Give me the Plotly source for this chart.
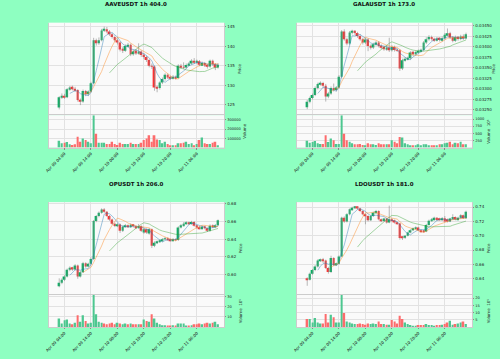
import plotly.graph_objects as go
import pandas as pd

# ---------------- data ----------------
TIME_TICKS = [2, 12, 22, 32, 42, 52]
TIME_LABELS = ["Apr 09 04:00", "Apr 09 14:00", "Apr 10 00:00",
               "Apr 10 10:00", "Apr 10 20:00", "Apr 11 06:00"]

AAVE_OPEN = [124.3,126.9,127.3,126.9,129.0,129.4,129.0,128.8,126.2,125.8,128.5,127.7,128.4,130.5,141.6,140.8,141.6,144.1,144.4,143.8,
             143.1,142.4,141.6,141.0,139.2,138.9,140.1,140.4,138.0,138.7,138.2,138.7,137.8,137.3,136.5,135.0,134.8,129.4,129.3,130.7,
             131.6,132.7,132.0,131.8,132.2,131.9,135.0,134.7,134.6,135.2,135.6,136.3,135.9,136.2,135.3,135.7,135.1,134.8,136.3,135.4,134.6]
AAVE_CLOSE = [126.9,127.3,126.9,129.0,129.4,129.0,128.8,126.2,125.8,128.5,127.7,128.4,130.5,141.6,140.8,141.6,144.1,144.4,143.8,143.1,
              142.4,141.6,141.0,139.2,138.9,140.1,140.4,138.0,138.7,138.2,138.7,137.8,137.3,136.5,135.0,134.8,129.4,129.3,130.7,131.6,
              132.7,132.0,131.8,132.2,131.9,135.0,134.7,134.6,135.2,135.6,136.3,135.9,136.2,135.3,135.7,135.1,134.8,136.3,135.4,134.6,135.3]
AAVE_HIGH = [127.2,127.9,127.8,129.3,129.8,129.9,129.6,129.0,126.6,128.9,128.8,128.7,130.9,142.2,142.0,142.3,144.5,145.1,145.0,144.2,
             143.5,142.8,142.0,141.3,139.8,140.5,140.9,140.7,139.1,139.2,140.8,139.0,138.2,137.6,136.8,135.6,135.1,129.9,131.0,132.0,
             133.1,133.0,132.4,132.6,132.5,135.4,135.5,135.9,135.6,136.0,136.7,137.0,136.6,136.5,136.1,136.0,135.4,136.6,136.6,135.7,135.7]
AAVE_LOW = [123.8,126.5,126.5,126.7,128.6,128.7,128.3,125.8,124.9,125.5,127.2,127.3,128.1,130.3,140.2,140.4,141.3,143.7,143.4,142.7,
            142.0,141.2,140.5,138.7,138.3,138.6,139.7,137.5,137.6,137.8,137.9,137.3,136.8,136.0,134.6,134.2,128.6,128.2,128.9,130.3,
            131.2,131.6,131.4,131.5,131.5,131.7,134.3,134.2,134.3,134.9,135.3,135.5,135.5,134.9,135.0,134.7,134.3,134.5,135.0,133.9,134.3]
AAVE_VOLUME = [74000,46000,53000,60000,35000,28000,35000,116000,63000,98000,81000,63000,46000,350000,150000,53000,53000,53000,39000,39000,
               63000,39000,28000,53000,39000,39000,39000,53000,39000,39000,39000,53000,81000,98000,133000,63000,133000,88000,81000,46000,
               63000,39000,25000,25000,25000,46000,46000,53000,63000,39000,46000,25000,39000,81000,109000,46000,39000,39000,53000,63000,25000]

GALA_OPEN = [.032562,.032696,.032784,.032855,.033021,.033116,.033140,.033076,.032823,.032894,.033021,.032973,.033037,.033290,.034366,.034184,.034081,.034342,.034370,.034330,
             .034263,.034184,.034105,.034180,.034025,.033986,.034065,.034105,.034025,.033986,.033946,.033990,.033923,.034000,.033930,.033923,.033488,.033685,.033710,.033733,
             .033867,.033828,.033880,.033907,.033930,.034105,.034184,.034239,.034190,.034160,.034199,.034165,.034210,.034290,.034326,.034223,.034150,.034230,.034190,.034250,.034200]
GALA_CLOSE = [.032696,.032784,.032855,.033021,.033116,.033140,.033076,.032823,.032894,.033021,.032973,.033037,.033290,.034366,.034184,.034081,.034342,.034370,.034330,.034263,
              .034184,.034105,.034180,.034025,.033986,.034065,.034105,.034025,.033986,.033946,.033990,.033923,.034000,.033930,.033923,.033488,.033685,.033710,.033733,.033867,
              .033828,.033880,.033907,.033930,.034105,.034184,.034239,.034190,.034160,.034199,.034165,.034210,.034290,.034326,.034223,.034150,.034230,.034190,.034250,.034200,.034300]
GALA_HIGH = [.032740,.032820,.032890,.033060,.033150,.033180,.033170,.033120,.032930,.033060,.033130,.033070,.033330,.034400,.034420,.034220,.034380,.034410,.034400,.034360,
             .034300,.034220,.034210,.034210,.034060,.034100,.034140,.034140,.034060,.034020,.034030,.034220,.034040,.034030,.033970,.033950,.033720,.033750,.033770,.033900,
             .033900,.033910,.033940,.033960,.034140,.034230,.034280,.034270,.034220,.034240,.034230,.034250,.034330,.034440,.034360,.034260,.034270,.034260,.034290,.034300,.034340]
GALA_LOW = [.032520,.032660,.032750,.032830,.032990,.033080,.033030,.032700,.032780,.032860,.032940,.032940,.033010,.033260,.034150,.034040,.034050,.034300,.034290,.034220,
            .034150,.034060,.034070,.033900,.033940,.033950,.034030,.033990,.033950,.033910,.033910,.033880,.033890,.033890,.033880,.033430,.033450,.033650,.033680,.033700,
            .033790,.033800,.033850,.033870,.033900,.034070,.034150,.034150,.034120,.034130,.034130,.034130,.034180,.034260,.034190,.034110,.034120,.034150,.034160,.034170,.034180]
GALA_VOLUME = [239,170,193,227,148,125,125,432,193,318,261,125,125,1136,488,261,204,148,114,114,
               125,91,80,148,114,114,91,148,114,114,114,114,261,204,148,375,352,148,114,80,
               80,80,114,80,114,114,80,80,80,80,114,114,148,170,204,114,170,148,204,114,114]

OP_OPEN = [.5871,.5910,.5945,.5980,.6056,.6079,.6060,.6104,.5982,.6030,.6130,.6093,.6123,.6178,.6604,.6659,.6696,.6733,.6708,.6660,
           .6620,.6574,.6548,.6565,.6493,.6540,.6556,.6540,.6560,.6545,.6530,.6545,.6474,.6511,.6463,.6511,.6326,.6360,.6370,.6382,
           .6400,.6411,.6395,.6385,.6400,.6389,.6530,.6556,.6574,.6585,.6570,.6593,.6550,.6530,.6522,.6540,.6522,.6493,.6550,.6540,.6556]
OP_CLOSE = [.5910,.5945,.5980,.6056,.6079,.6060,.6104,.5982,.6030,.6130,.6093,.6123,.6178,.6604,.6659,.6696,.6733,.6708,.6660,.6620,
            .6574,.6548,.6565,.6493,.6540,.6556,.6540,.6560,.6545,.6530,.6545,.6493,.6511,.6474,.6511,.6326,.6360,.6370,.6382,.6400,
            .6411,.6395,.6385,.6400,.6389,.6530,.6556,.6574,.6585,.6570,.6593,.6550,.6530,.6522,.6540,.6522,.6493,.6550,.6540,.6556,.6611]
OP_HIGH = [.5960,.5960,.5995,.6070,.6095,.6090,.6120,.6115,.6045,.6145,.6140,.6135,.6195,.6615,.6670,.6710,.6745,.6748,.6715,.6670,
           .6630,.6585,.6580,.6575,.6555,.6570,.6565,.6575,.6570,.6555,.6570,.6555,.6525,.6520,.6525,.6520,.6375,.6385,.6395,.6412,
           .6425,.6420,.6405,.6412,.6410,.6545,.6570,.6590,.6600,.6595,.6605,.6600,.6560,.6545,.6555,.6550,.6530,.6565,.6565,.6570,.6620]
OP_LOW = [.5860,.5895,.5930,.5970,.6040,.6045,.6050,.5955,.5970,.6020,.6080,.6085,.6110,.6165,.6590,.6645,.6685,.6695,.6650,.6605,
          .6560,.6535,.6535,.6470,.6480,.6530,.6525,.6530,.6530,.6515,.6520,.6480,.6460,.6460,.6450,.6300,.6310,.6345,.6360,.6370,
          .6390,.6385,.6375,.6375,.6378,.6380,.6520,.6545,.6562,.6560,.6560,.6540,.6518,.6510,.6512,.6510,.6480,.6485,.6525,.6530,.6545]
OP_VOLUME = [8.4,3.5,6.8,7.4,3.5,2.9,4.2,11.6,5.2,11.6,6.1,3.5,4.2,32.0,12.6,5.2,4.2,3.5,2.9,3.5,
             4.2,2.9,4.2,3.5,2.9,3.5,2.9,3.5,2.9,2.9,2.9,2.9,7.4,6.1,5.2,12.6,8.4,4.2,2.9,1.9,
             1.9,1.6,1.6,1.9,1.6,3.5,3.5,3.5,1.6,1.6,1.9,2.9,2.9,3.5,2.9,3.5,4.2,3.5,4.2,5.2,2.9]

LDO_OPEN = [.6400,.6386,.6469,.6520,.6570,.6653,.6660,.6653,.6550,.6492,.6690,.6590,.6607,.6709,.7252,.7197,.7299,.7368,.7391,.7400,
            .7380,.7345,.7300,.7276,.7216,.7276,.7322,.7345,.7229,.7206,.7239,.7183,.7230,.7215,.7183,.7170,.6985,.6970,.6999,.7045,
            .7077,.7105,.7114,.7077,.7070,.7059,.7151,.7210,.7229,.7252,.7240,.7220,.7245,.7230,.7200,.7239,.7262,.7230,.7250,.7285,.7245]
LDO_CLOSE = [.6377,.6469,.6520,.6570,.6653,.6660,.6653,.6550,.6492,.6690,.6590,.6607,.6709,.7252,.7197,.7299,.7368,.7391,.7400,.7380,
             .7345,.7300,.7276,.7216,.7276,.7322,.7345,.7229,.7206,.7239,.7183,.7230,.7215,.7183,.7170,.6967,.6970,.6999,.7045,.7077,
             .7105,.7114,.7077,.7059,.7059,.7151,.7210,.7229,.7252,.7220,.7220,.7245,.7200,.7200,.7239,.7262,.7230,.7250,.7285,.7245,.7335]
LDO_HIGH = [.6420,.6485,.6535,.6590,.6670,.6680,.6690,.6665,.6565,.6720,.6700,.6625,.6725,.7265,.7270,.7315,.7380,.7405,.7415,.7410,
            .7390,.7355,.7310,.7285,.7290,.7335,.7360,.7355,.7240,.7250,.7250,.7420,.7245,.7225,.7195,.7180,.6995,.7010,.7055,.7090,
            .7115,.7130,.7125,.7090,.7085,.7165,.7225,.7245,.7265,.7260,.7250,.7260,.7275,.7240,.7250,.7300,.7270,.7265,.7300,.7295,.7350]
LDO_LOW = [.6300,.6375,.6455,.6505,.6555,.6635,.6620,.6535,.6470,.6480,.6575,.6580,.6595,.6700,.7180,.7185,.7285,.7350,.7375,.7365,
           .7330,.7285,.7160,.7200,.7205,.7265,.7310,.7215,.7190,.7195,.7170,.7175,.7200,.7170,.7155,.6945,.6940,.6955,.6990,.7035,
           .7065,.7095,.7065,.7045,.7045,.7050,.7140,.7200,.7215,.7205,.7210,.7210,.7190,.7185,.7190,.7230,.7215,.7220,.7240,.7235,.7235]
LDO_VOLUME = [5.5,5.5,3.2,6.2,3.2,2.5,2.5,9.0,3.2,8.5,6.7,3.2,3.2,22.3,9.7,3.9,3.2,2.5,2.1,2.1,
              2.5,2.1,1.6,2.5,2.1,2.5,2.1,3.9,2.1,2.1,1.6,1.6,4.8,3.9,2.5,7.8,5.5,3.2,2.1,1.4,
              0.9,0.9,1.4,1.4,1.4,2.1,1.4,1.4,0.9,1.4,1.4,1.6,2.1,3.2,4.4,1.6,2.1,2.5,3.2,3.9,2.1]

SYMBOLS = [
    dict(title="AAVEUSDT 1h 404.0", o=AAVE_OPEN, h=AAVE_HIGH, l=AAVE_LOW, c=AAVE_CLOSE, v=AAVE_VOLUME,
         prange=[122.31, 146.11], pticks=[125, 130, 135, 140, 145], pfmt="{:.0f}",
         vticks=[100000, 200000, 300000], vtext=["100000", "200000", "300000"], vlabel="Volume",
         plab_dx=16, vlab_dx=21),
    dict(title="GALAUSDT 1h 173.0", o=GALA_OPEN, h=GALA_HIGH, l=GALA_LOW, c=GALA_CLOSE, v=GALA_VOLUME,
         prange=[0.032376, 0.034579],
         pticks=[0.03250, 0.03275, 0.03300, 0.03325, 0.03350, 0.03375, 0.03400, 0.03425, 0.03450], pfmt="{:.5f}",
         vticks=[250, 500, 750, 1000], vtext=["250", "500", "750", "1000"], vlabel="Volume  10\u2075",
         plab_dx=22, vlab_dx=17),
    dict(title="OPUSDT 1h 206.0", o=OP_OPEN, h=OP_HIGH, l=OP_LOW, c=OP_CLOSE, v=OP_VOLUME,
         prange=[0.5777, 0.6815], pticks=[0.60, 0.62, 0.64, 0.66, 0.68], pfmt="{:.2f}",
         vticks=[10, 20, 30], vtext=["10", "20", "30"], vlabel="Volume  10\u2075",
         plab_dx=16, vlab_dx=16),
    dict(title="LDOUSDT 1h 181.0", o=LDO_OPEN, h=LDO_HIGH, l=LDO_LOW, c=LDO_CLOSE, v=LDO_VOLUME,
         prange=[0.6176, 0.7469], pticks=[0.64, 0.66, 0.68, 0.70, 0.72, 0.74], pfmt="{:.2f}",
         vticks=[5, 10, 15, 20], vtext=["5", "10", "15", "20"], vlabel="Volume  10\u2075",
         plab_dx=16, vlab_dx=16),
]
MAV = [5, 10, 20]

# ---------------- style ----------------
W, H = 500, 359
BG = "#8effc1"
UP, DOWN = "#00b060", "#fe3032"
VUP, VDOWN = "#4dc790", "#fd6b6c"
WICK = "#8a8a8a"
GRID = "#e2e2e2"
MA_COLORS = ["#1f77b4", "#ff7f0e", "#2ca02c"]
FONT = "DejaVu Sans"

XDOM = [(45, 222), (295, 472)]
YOFF = [0, 180]

fig = go.Figure()
layout = dict(width=W, height=H, margin=dict(l=0, r=0, t=0, b=0),
              paper_bgcolor=BG, plot_bgcolor="#fafafa", showlegend=False,
              barmode="overlay", font=dict(family=FONT, size=4, color="#222"))
annotations = []
axis_common = dict(showgrid=True, gridcolor=GRID, gridwidth=0.6, zeroline=False,
                   ticks="outside", ticklen=1.5, tickcolor="#888", showline=True,
                   linecolor="#cccccc", linewidth=0.5, mirror=True)

for k, s in enumerate(SYMBOLS):
    col, row = k % 2, k // 2
    xa = "x" if k == 0 else f"x{k+1}"
    yp_n, yv_n = 2 * k + 1, 2 * k + 2
    yp = "y" if yp_n == 1 else f"y{yp_n}"
    yv = f"y{yv_n}"
    n = len(s["c"])
    idx = list(range(n))
    up = [c >= o for o, c in zip(s["o"], s["c"])]

    wx, wy = [], []
    for i in idx:
        wx += [i, i, None]
        wy += [s["l"][i], s["h"][i], None]
    fig.add_trace(go.Scatter(x=wx, y=wy, mode="lines", line=dict(color=WICK, width=0.6),
                             xaxis=xa, yaxis=yp, hoverinfo="skip"))
    fig.add_trace(go.Bar(x=idx, base=s["o"], y=[c - o for o, c in zip(s["o"], s["c"])],
                         width=0.7, marker=dict(color=[UP if u else DOWN for u in up], line=dict(width=0)),
                         xaxis=xa, yaxis=yp))
    cs = pd.Series(s["c"])
    for m, mc in zip(MAV, MA_COLORS):
        ma = cs.rolling(m).mean()
        fig.add_trace(go.Scatter(x=idx, y=ma.tolist(), mode="lines",
                                 line=dict(color=mc, width=0.7), opacity=0.6,
                                 xaxis=xa, yaxis=yp, hoverinfo="skip"))
    fig.add_trace(go.Bar(x=idx, y=s["v"], width=0.65,
                         marker=dict(color=[VUP if u else VDOWN for u in up], line=dict(width=0)),
                         xaxis=xa, yaxis=yv))

    x0, x1 = XDOM[col]
    off = YOFF[row]
    p_top, p_bot, v_bot = off + 21.7, off + 114.5, off + 147.0
    xkey = "xaxis" if k == 0 else f"xaxis{k+1}"
    layout[xkey] = dict(domain=[x0 / W, x1 / W], range=[-4.0, 62.35], anchor=yv,
                        tickvals=TIME_TICKS, ticktext=TIME_LABELS, tickangle=-45,
                        tickfont=dict(size=4, family=FONT), **axis_common)
    ypkey = "yaxis" if yp_n == 1 else f"yaxis{yp_n}"
    layout[ypkey] = dict(domain=[1 - p_bot / H, 1 - p_top / H], range=s["prange"], anchor=xa,
                         side="right", tickvals=s["pticks"],
                         ticktext=[s["pfmt"].format(t) for t in s["pticks"]],
                         tickfont=dict(size=4, family=FONT), **axis_common)
    layout[f"yaxis{yv_n}"] = dict(domain=[1 - v_bot / H, 1 - p_bot / H],
                                  range=[0, max(s["v"])], anchor=xa, side="right",
                                  tickvals=s["vticks"], ticktext=s["vtext"],
                                  tickfont=dict(size=3.6, family=FONT), **axis_common)
    annotations.append(dict(text=f"<b>{s['title']}</b>", x=(x0 + x1) / 2 / W,
                            xref="paper", y=1 - (off + 3.2) / H, yref="paper",
                            showarrow=False, font=dict(size=5.5, family=FONT, color="#111"),
                            xanchor="center", yanchor="middle"))
    annotations.append(dict(text="Price", x=(x1 + s["plab_dx"]) / W, y=1 - (off + 68) / H,
                            xref="paper", yref="paper", textangle=-90, showarrow=False,
                            font=dict(size=4, family=FONT), xanchor="center", yanchor="middle"))
    annotations.append(dict(text=s["vlabel"], x=(x1 + s["vlab_dx"]) / W, y=1 - (off + 131) / H,
                            xref="paper", yref="paper", textangle=-90, showarrow=False,
                            font=dict(size=4, family=FONT), xanchor="center", yanchor="middle"))

layout["annotations"] = annotations
fig.update_layout(**layout)
fig.write_html("out.html")
